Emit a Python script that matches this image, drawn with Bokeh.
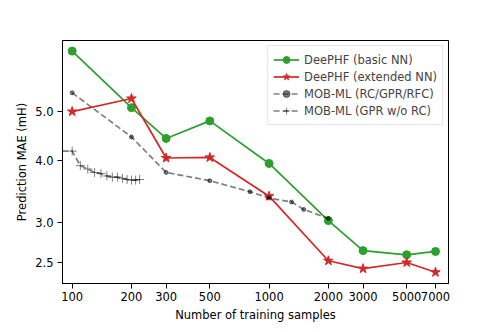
from bokeh.plotting import figure
from bokeh.models import Range1d, FixedTicker, PrintfTickFormatter, Legend, LegendItem
from bokeh.embed import file_html
from bokeh.resources import INLINE

# Data
basic_x = [100, 200, 300, 500, 1000, 2000, 3000, 5000, 7000]
basic_y = [6.60, 5.09, 4.42, 4.79, 3.94, 3.03, 2.64, 2.59, 2.63]

ext_x = [100, 200, 300, 500, 1000, 2000, 3000, 5000, 7000]
ext_y = [5.00, 5.31, 4.04, 4.05, 3.39, 2.52, 2.43, 2.50, 2.39]

rc_x = [100, 200, 300, 500, 800, 1000, 1300, 1500, 2000]
rc_y = [5.45, 4.45, 3.78, 3.64, 3.46, 3.36, 3.30, 3.19, 3.06]

gpr_x = [80, 100, 110, 120, 130, 140, 150, 160, 170, 180, 190, 200, 210, 220]
gpr_y = [4.17, 4.17, 3.90, 3.84, 3.78, 3.76, 3.72, 3.70, 3.70, 3.68, 3.66, 3.65, 3.65, 3.66]

x_ticks = [100, 200, 300, 500, 1000, 2000, 3000, 5000, 7000]
y_ticks = [2.5, 3.0, 4.0, 5.0]

FONT = "DejaVu Sans"
FS = "11.5px"

p = figure(width=490, height=324, x_axis_type="log", y_axis_type="log",
           x_range=Range1d(89.3, 8150), y_range=Range1d(2.27, 6.93),
           output_backend="svg", toolbar_location=None,
           min_border_left=62, min_border_right=42, min_border_top=40, min_border_bottom=34)
p.xgrid.visible = False
p.ygrid.visible = False
p.outline_line_color = "black"
p.outline_line_alpha = 1.0
p.outline_line_width = 1
p.background_fill_color = "white"
p.border_fill_color = "white"

green = "#2ca02c"
red = "#d62728"

r1l = p.line(basic_x, basic_y, color=green, line_width=1.7)
r1m = p.scatter(basic_x, basic_y, marker="circle", size=8, color=green)
r2l = p.line(ext_x, ext_y, color=red, line_width=1.7)
r2m = p.scatter(ext_x, ext_y, marker="star", size=10, color=red)
r3l = p.line(rc_x, rc_y, color="black", alpha=0.5, line_width=1.7, line_dash="6 3")
r3m = p.scatter(rc_x, rc_y, marker="circle", size=4, color="black", alpha=0.5)
r4l = p.line(gpr_x, gpr_y, color="black", alpha=0.5, line_width=1.7, line_dash="6 3")
r4m = p.scatter(gpr_x, gpr_y, marker="cross", size=9, color="black", alpha=0.5, line_width=1)

legend = Legend(items=[
    LegendItem(label="DeePHF (basic NN)", renderers=[r1l, r1m]),
    LegendItem(label="DeePHF (extended NN)", renderers=[r2l, r2m]),
    LegendItem(label="MOB-ML (RC/GPR/RFC)", renderers=[r3l, r3m]),
    LegendItem(label="MOB-ML (GPR w/o RC)", renderers=[r4l, r4m]),
], location="top_right")
legend.label_text_font = FONT
legend.label_text_font_size = FS
legend.label_height = 17
legend.glyph_height = 17
legend.glyph_width = 26
legend.spacing = 0
legend.padding = 5
legend.margin = 5
legend.border_line_color = "#cccccc"
legend.border_line_width = 1
legend.background_fill_alpha = 0.8
p.add_layout(legend)

for ax in (p.xaxis, p.yaxis):
    ax.axis_line_color = "black"
    ax.major_tick_line_color = "black"
    ax.major_tick_out = 5
    ax.major_tick_in = 0
    ax.minor_tick_line_color = None
    ax.major_label_text_font = FONT
    ax.major_label_text_font_size = FS
    ax.major_label_text_color = "black"
    ax.axis_label_text_font = FONT
    ax.axis_label_text_font_size = FS
    ax.axis_label_text_font_style = "normal"
    ax.axis_label_text_color = "black"

p.xaxis.ticker = FixedTicker(ticks=x_ticks)
p.yaxis.ticker = FixedTicker(ticks=y_ticks)
p.xaxis.formatter = PrintfTickFormatter(format="%d")
p.yaxis.formatter = PrintfTickFormatter(format="%.1f")
p.xaxis.axis_label = "Number of training samples"
p.yaxis.axis_label = "Prediction MAE (mH)"
p.xaxis.major_label_standoff = 3
p.yaxis.major_label_standoff = 4
p.xaxis.axis_label_standoff = 4
p.yaxis.axis_label_standoff = 3

open("out.html", "w").write(file_html(p, INLINE))
